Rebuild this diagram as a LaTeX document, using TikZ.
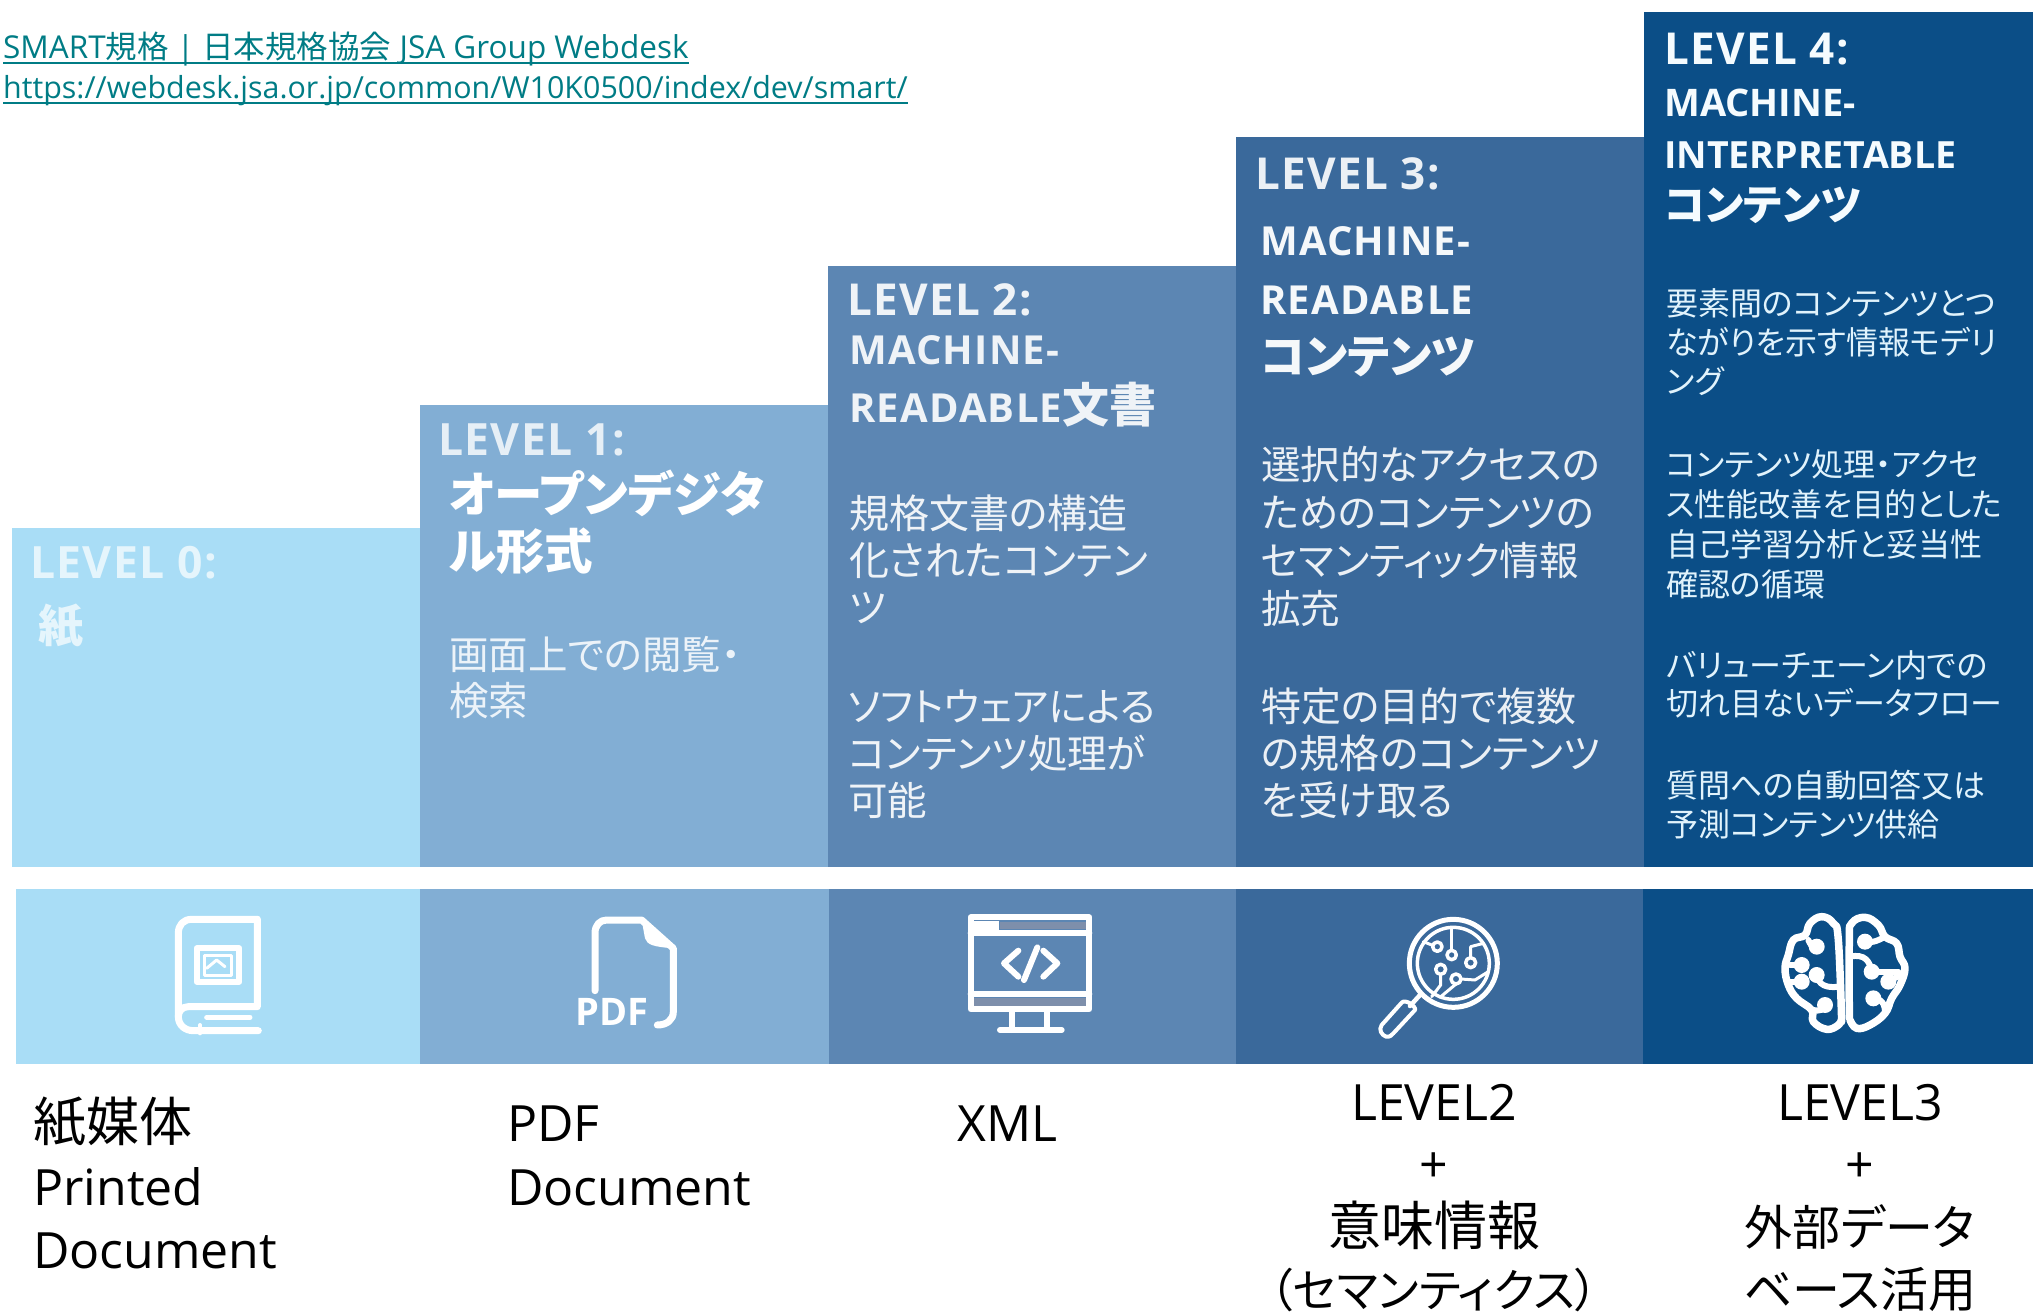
\documentclass[tikz,border=0pt]{standalone}
\usepackage{fontspec}
\setmainfont{Open Sans}
\newfontfamily\jp[RawFeature=+palt]{Noto Sans CJK JP}
\newfontfamily\osl[LetterSpace=3]{Open Sans}
\newcommand{\J}[1]{{\jp #1}}
\definecolor{lzero}{HTML}{A9DDF6}
\definecolor{lone}{HTML}{82AED4}
\definecolor{ltwo}{HTML}{5C86B3}
\definecolor{lthree}{HTML}{3A699B}
\definecolor{lfour}{HTML}{0B4E87}
\definecolor{linkc}{HTML}{007C85}
\definecolor{gstrip}{HTML}{7E8FAB}
\newcommand{\fs}[2]{\fontsize{#1}{#2}\selectfont}
\newcommand{\Bf}[2]{\osl\bfseries\fs{#1}{#2}}
\newcommand{\Jf}[2]{\jp\fs{#1}{#2}}
\newcommand{\ulin}[1]{\setbox0=\hbox{#1}\rlap{\rule[-5pt]{\wd0}{1.8pt}}\box0 }
\tikzset{
  txt/.style={anchor=north west,inner sep=0pt,align=left},
  lab/.style={inner sep=0pt,align=center,text=black},
  ico/.style={draw=white,line width=#1,line cap=round,line join=round},
  ico/.default=6pt
}
\begin{document}
\begin{tikzpicture}[x=1pt,y=-1pt]
\useasboundingbox (0,0) rectangle (2033,1314);
% steps
\fill[lzero] (12,528) rectangle (421,867);
\fill[lone] (420,405) rectangle (829,867);
\fill[ltwo] (828,266) rectangle (1237,867);
\fill[lthree] (1236,137) rectangle (1645,867);
\fill[lfour] (1644,12) rectangle (2033,867);
% band
\fill[lzero] (16,889) rectangle (421,1064);
\fill[lone] (420,889) rectangle (830,1064);
\fill[ltwo] (829,889) rectangle (1237,1064);
\fill[lthree] (1236,889) rectangle (1644,1064);
\fill[lfour] (1643,889) rectangle (2033,1064);
% link
\node[txt,text=linkc,font=\fs{31.5}{40}] (link) at (3,32) {\ulin{SMART\J{規格} | \J{日本規格協会} JSA Group Webdesk}\\\ulin{\fontsize{30.4}{40}\selectfont https://webdesk.jsa.or.jp/common/W10K0500/index/dev/smart/}};
% level 0
\node[txt,text=white!70!lzero,font=\Bf{44.5}{48}] (a0) at (30,546) {LEVEL 0:};
\node[txt,text=white!70!lzero,font=\bfseries\Jf{45}{52}] (a1) at (38,604) {紙};
% level 1
\node[txt,text=white!80!lone,font=\Bf{44.5}{48}] (b0) at (438,424) {LEVEL 1:};
\node[txt,text=white,font=\bfseries\Jf{48.5}{57}] (b1) at (449,470) {オープンデジタ\\ル形式};
\node[txt,text=white!85!lone,font=\Jf{39.5}{46}] (b2) at (449,636) {画面上での閲覧・\\検索};
% level 2
\node[txt,text=white!90!ltwo,font=\Bf{44}{48}] (c0) at (847,283) {LEVEL 2:};
\node[txt,text=white!90!ltwo,font=\Bf{40}{58}] (c1) at (849,335) {MACHINE-\\READABLE{\jp\fontsize{47}{58}\selectfont 文書}};
\node[txt,text=white!90!ltwo,font=\Jf{40}{47}] (c2) at (849,495) {規格文書の構造\\化されたコンテン\\ツ};
\node[txt,text=white!90!ltwo,font=\Jf{39.5}{47}] (c3) at (848,690) {ソフトウェアによる\\コンテンツ処理が\\可能};
% level 3
\node[txt,text=white!90!lthree,font=\Bf{44}{48}] (d0) at (1255,157) {LEVEL 3:};
\node[txt,text=white!95!lthree,font=\Bf{40}{59}] (d1) at (1260,226) {MACHINE-\\READABLE\\{\jp\fontsize{46}{59}\selectfont コンテンツ}};
\node[txt,text=white!90!lthree,font=\Jf{39.5}{48}] (d2) at (1261,446) {選択的なアクセスの\\ためのコンテンツの\\セマンティック情報\\拡充};
\node[txt,text=white!90!lthree,font=\Jf{40}{47}] (d3) at (1261,688) {特定の目的で複数\\の規格のコンテンツ\\を受け取る};
% level 4
\node[txt,text=white!88!lzero,font=\bfseries\fs{38}{52}] (e0) at (1664,33) {{\osl\fontsize{44}{52}\selectfont LEVEL 4:}\\MACHINE-\\{\fontsize{37.5}{52}\selectfont INTERPRETABLE}\\{\jp\fontsize{42}{52}\selectfont コンテンツ}};
\node[txt,text=white!65!lzero,font=\Jf{32}{39}] (e1) at (1666,288) {要素間のコンテンツとつ\\ながりを示す情報モデリ\\ング};
\node[txt,text=white!65!lzero,font=\Jf{32}{40}] (e2) at (1666,449) {コンテンツ処理・アクセ\\ス性能改善を目的とした\\自己学習分析と妥当性\\確認の循環};
\node[txt,text=white!65!lzero,font=\Jf{32}{38}] (e3) at (1666,650) {バリューチェーン内での\\切れ目ないデータフロー};
\node[txt,text=white!65!lzero,font=\Jf{32}{39}] (e4) at (1666,770) {質問への自動回答又は\\予測コンテンツ供給};
% bottom labels
\node[txt,text=black,font=\fs{50}{63.5}] (f0) at (33,1097) {{\jp\fontsize{53}{63.5}\selectfont 紙媒体}\\Printed\\Document};
\node[txt,text=black,font=\fs{50}{63.5}] (f1) at (507,1106) {PDF\\Document};
\node[txt,text=black,font=\fs{50}{63.5}] (f2) at (957,1106) {XML};
\node[lab,anchor=north,font=\fs{50}{62.5}] (f3) at (1434,1084) {LEVEL2\\+\\{\jp\fontsize{53}{62.5}\selectfont 意味情報}\\{\jp\fontsize{46}{62.5}\selectfont （セマンティクス）}};
\node[lab,anchor=north,font=\fs{50}{62.5}] (f4) at (1860,1084) {LEVEL3\\+\\{\jp\fontsize{48}{62.5}\selectfont 外部データ}\\{\jp\fontsize{48}{62.5}\selectfont ベース活用}};
% book icon
\begin{scope}[shift={(150,900)},x=0.3333pt,y=-0.3333pt]
 \draw[ico=7pt] (322,58) -- (125,58) .. controls (100,58) and (85,75) .. (85,100) -- (85,350) .. controls (85,375) and (105,392) .. (130,392) -- (325,392);
 \draw[ico=7pt] (322,58) -- (322,320) -- (115,320) .. controls (95,320) and (85,335) .. (85,350);
 \draw[ico=5pt] (170,352) -- (300,352);
 \draw[ico=6pt] (140,145) rectangle (268,245);
 \draw[ico=3pt] (165,165) -- (165,225) -- (245,225) -- (245,165) -- cycle;
 \draw[ico=3pt] (170,205) -- (200,180) -- (225,200);
 \draw[ico=4pt] (150,375) -- (150,400);
\end{scope}
% pdf icon
\begin{scope}[shift={(560,900)},x=0.3333pt,y=-0.3333pt]
 \draw[ico=7pt] (105,272) -- (105,100) .. controls (105,75) and (120,60) .. (140,60) -- (245,60) -- (340,145) -- (340,335) .. controls (340,360) and (320,375) .. (292,375);
 \fill[white] (245,60) -- (255,115) .. controls (262,135) and (280,140) .. (340,145) -- cycle;
 \node[inner sep=0pt,text=white,font=\bfseries\fs{38}{40}] (pdfic) at (155,337) {PDF};
\end{scope}
% monitor icon
\begin{scope}[shift={(950,900)},x=0.3333pt,y=-0.3333pt]
 \fill[gstrip] (150,65) rectangle (410,88);
 \fill[gstrip] (72,295) rectangle (410,318);
 \draw[ico=6pt] (62,52) rectangle (418,328);
 \draw[ico=6pt] (62,100) -- (418,100);
 \draw[ico=6pt] (62,282) -- (418,282);
 \fill[white] (72,62) rectangle (148,90);
 \draw[ico=6pt] (185,328) -- (185,390);
 \draw[ico=6pt] (290,328) -- (290,390);
 \draw[ico=6pt] (150,390) -- (335,390);
 \draw[ico=6pt] (205,152) -- (162,190) -- (205,230);
 \draw[ico=6pt] (280,152) -- (322,190) -- (280,230);
 \draw[ico=6pt] (262,142) -- (222,240);
\end{scope}
% magnifier icon
\begin{scope}[shift={(1360,900)},x=0.3333pt,y=-0.3333pt]
 \draw[ico=5pt] (280,190) circle[x radius=132,y radius=132];
 \draw[ico=3.5pt] (280,190) circle[x radius=108,y radius=108];
 \draw[ico=4.5pt] (180,285) -- (150,318);
 \draw[ico=4pt] (125,308) -- (65,375) .. controls (55,390) and (65,405) .. (78,410) .. controls (90,412) and (95,405) .. (100,400) -- (165,330) .. controls (170,320) and (135,295) .. (125,308) -- cycle;
 \draw[ico=3.5pt] (232,140) circle[radius=14];
 \draw[ico=3.5pt] (275,165) circle[radius=14];
 \draw[ico=3.5pt] (332,188) circle[radius=15];
 \draw[ico=3.5pt] (242,208) circle[radius=15];
 \draw[ico=3.5pt] (288,237) circle[radius=15];
 \draw[ico=3pt] (218,136) -- (190,125);
 \draw[ico=3pt] (275,151) -- (275,85);
 \draw[ico=3pt] (332,173) -- (332,140) -- (370,130);
 \draw[ico=3pt] (242,223) -- (242,255) -- (215,290);
 \draw[ico=3pt] (303,237) -- (345,240) -- (385,215);
 \draw[ico=3pt] (288,252) -- (240,292);
\end{scope}
% brain icon
\begin{scope}[shift={(1770,900)},x=0.3333pt,y=-0.3333pt]
 \draw[ico=7.5pt] plot[smooth,tension=0.7] coordinates {(215,365) (205,120) (190,70) (155,50) (120,70) (105,105) (70,120) (55,165) (45,205) (55,255) (80,295) (125,330) (130,365) (170,388) (205,375) (215,355)};
 \draw[ico=7.5pt] plot[smooth,tension=0.7] coordinates {(238,355) (238,120) (245,70) (285,52) (325,75) (345,110) (380,130) (390,170) (405,205) (390,255) (365,295) (345,340) (300,375) (260,385) (240,360)};
 \draw[ico=6pt] (115,120) .. controls (125,145) and (140,150) .. (150,140);
 \draw[ico=6pt] (60,195) -- (95,195);
 \draw[ico=6pt] (140,225) .. controls (145,255) and (170,265) .. (205,260);
 \draw[ico=6pt] (55,245) -- (95,245);
 \draw[ico=6pt] (130,330) .. controls (145,335) and (165,330) .. (170,312);
 \draw[ico=6pt] (345,110) .. controls (320,125) and (300,130) .. (280,125);
 \draw[ico=6pt] (240,170) .. controls (285,160) and (300,185) .. (305,215);
 \draw[ico=6pt] (395,225) -- (350,245);
 \draw[ico=6pt] (345,340) .. controls (345,310) and (335,295) .. (305,295);
 \draw[ico=6pt] (305,215) -- (385,215);
 \foreach \p in {(140,140),(95,195),(140,225),(95,245),(165,315),(285,125),(305,215),(355,245),(310,295)}
   \fill[white] \p circle[radius=24];
\end{scope}
\end{tikzpicture}
\end{document}
